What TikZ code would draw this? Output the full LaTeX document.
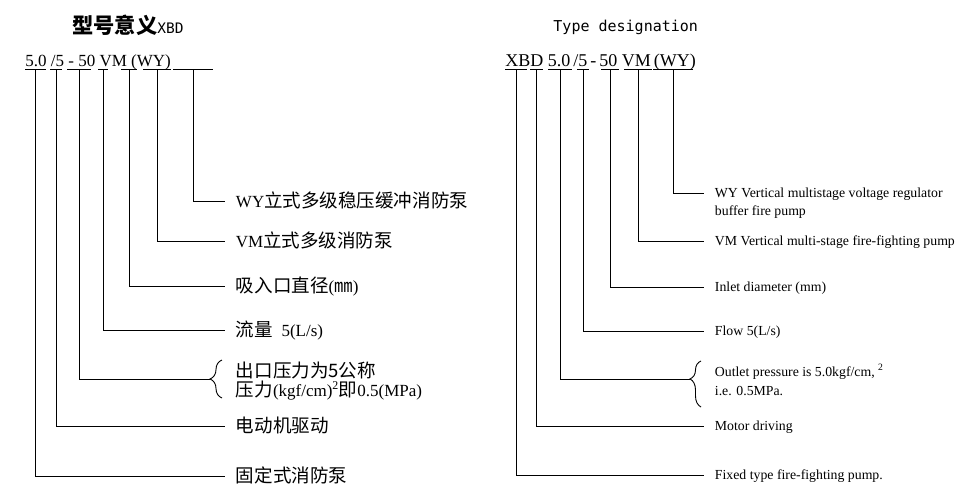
\documentclass[tikz,border=0pt]{standalone}
\usepackage{fontspec}
\setmainfont{Liberation Serif}
\newfontfamily\cjk{Noto Sans CJK SC}[Scale = 1.09]
\newfontfamily\monofont{DejaVu Sans Mono}
\usetikzlibrary{decorations.pathreplacing, positioning}

\newcommand{\zh}[1]{{\cjk #1}}

\tikzset{
    code/.style = {anchor = base west, inner sep = 0pt},
    descL/.style = {anchor = west, inner ysep = 0pt, inner xsep = 10.5pt,
        text height = 13.5pt, text depth = 1.5pt, font = \fontsize{17}{19}\selectfont},
    descR/.style = {anchor = west, inner ysep = 0pt, inner xsep = 10.5pt,
        text height = 10.5pt, text depth = 1pt, font = \fontsize{13.8}{17}\selectfont},
    braceL/.style = {anchor = west, inner ysep = 0pt, inner xsep = 10.5pt, align = left,
        font = \fontsize{17}{18.5}\selectfont},
    braceR/.style = {anchor = west, inner ysep = 0pt, inner xsep = 10.5pt, align = left,
        font = \fontsize{13.8}{19}\selectfont},
    curly/.style = {decorate, decoration = {brace, amplitude = 12pt}},
}

\begin{document}
\begin{tikzpicture}[x = 1pt, y = -1pt, line width = 0.9pt]

        \useasboundingbox (0, 0) rectangle (975, 501);

        % Chinese key
        \node (titleL) [anchor = base west, inner sep = 0pt] at (72, 33)
            {\fontsize{19.5}{20}\selectfont\cjk\bfseries 型号意义\fontsize{14.5}{15}\selectfont\monofont\mdseries XBD};
        \node (codeL) [code, font = \fontsize{17}{17}\selectfont] at (25, 66) {5.0 /5 - 50 VM (WY)};

        %% underlines
        \foreach \a/\b/\n in {25/46/L1, 50/62/L2, 67/91/L3, 98/108/L4, 121/137/L5, 143/171/L6, 173/213/L7}
            \draw (\a, 69) -- coordinate (\n) (\b, 69);

        %% meanings
        \node (dL7) [descL] at (225, 201) {WY\zh{立式多级稳压缓冲消防泵}};
        \node (dL6) [descL] at (225, 241) {VM\zh{立式多级消防泵}};
        \node (dL5) [descL] at (225, 286) {\zh{吸入口直径}(\zh{㎜})};
        \node (dL4) [descL] at (225, 330) {\zh{流量}\enspace 5(L/s)};
        \node (dL3) [braceL] at (225, 381) {\zh{出口压力为5公称}\\\zh{压力}(kgf/cm)\textsuperscript{2}\zh{即}0.5(MPa)};
        \node (dL2) [descL] at (225, 426) {\zh{电动机驱动}};
        \node (dL1) [descL] at (225, 476) {\zh{固定式消防泵}};

        \draw [curly] (222, 398) -- (222, 360);
        \coordinate (bL) at (210, 379);

        \foreach \n in {1, 2, 4, 5, 6, 7}
            \draw (L\n) |- (dL\n.west);
        \draw (L3) |- (bL);

        % English key
        \node (titleR) [anchor = base west, inner sep = 0pt, font = \fontsize{15}{15}\selectfont\monofont] at (553, 31) {Type designation};
        \node (codeR) [code, font = \fontsize{18}{18}\selectfont] at (505, 66) {XBD 5.0\,/5\,-\,50 VM\,(WY)};

        %% underlines
        \foreach \a/\b/\n in {505/527/R1, 530/543/R2, 548/572/R3, 577/589/R4, 601/619/R5, 624/652/R6, 653/693/R7}
            \draw (\a, 69) -- coordinate (\n) (\b, 69);

        %% meanings
        \node (dR7) [descR] at (704, 193) {WY Vertical multistage voltage regulator};
        \node (dR7b) [descR, below right = 5pt and 0pt of dR7.south west] {buffer fire pump};
        \node (dR6) [descR] at (704, 241) {VM Vertical multi-stage fire-fighting pump};
        \node (dR5) [descR] at (704, 287) {Inlet diameter (mm)};
        \node (dR4) [descR] at (704, 331) {Flow 5(L/s)};
        \node (dR3) [braceR] at (704, 380) {Outlet pressure is 5.0kgf/cm, \textsuperscript{2}\\i.e. 0.5MPa.};
        \node (dR2) [descR] at (704, 426) {Motor driving};
        \node (dR1) [descR] at (704, 475) {Fixed type fire-fighting pump.};

        \draw [decorate, decoration = {brace, amplitude = 11pt, aspect = 0.61}] (701, 407) -- (701, 361);
        \coordinate (bR) at (690, 379);

        \foreach \n in {1, 2, 4, 5, 6, 7}
            \draw (R\n) |- (dR\n.west);
        \draw (R3) |- (bR);

\end{tikzpicture}
\end{document}
